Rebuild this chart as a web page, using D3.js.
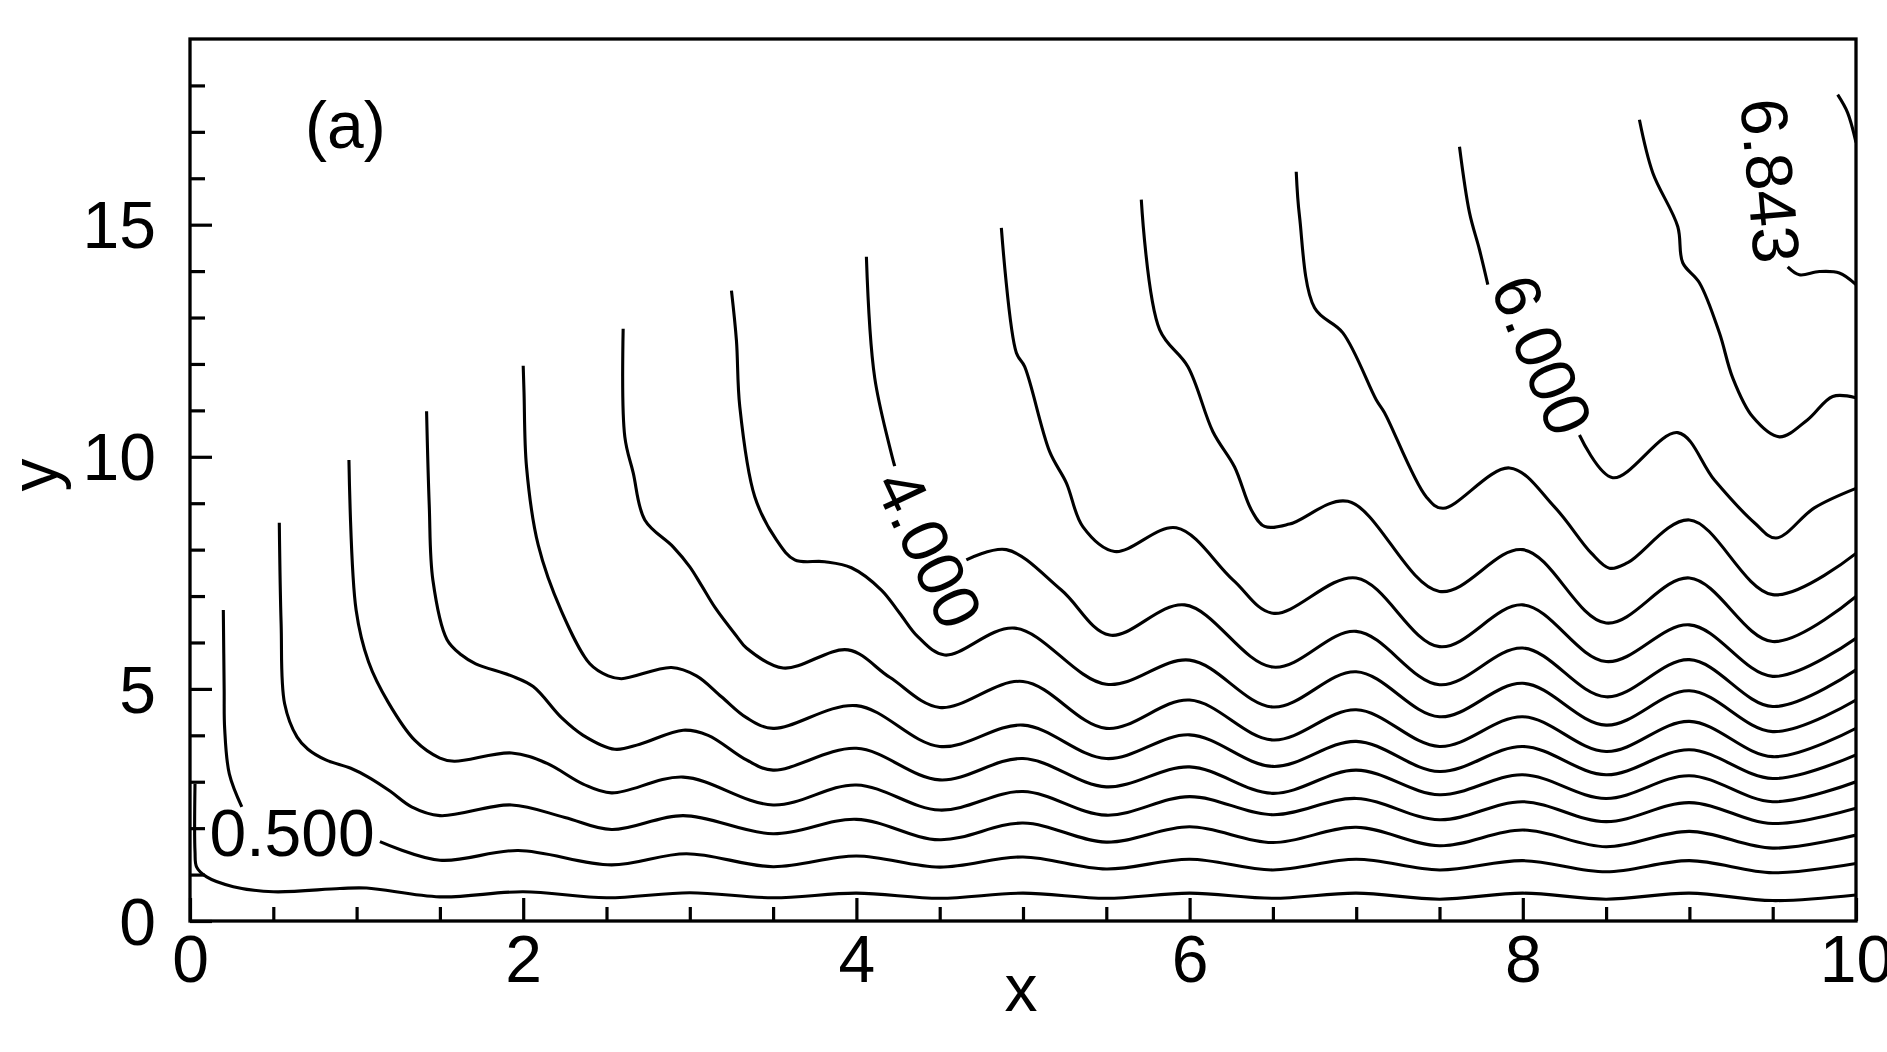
<!DOCTYPE html>
<html><head><meta charset="utf-8">
<script src="https://cdn.jsdelivr.net/npm/d3@7/dist/d3.min.js"></script>
<style>
body{margin:0;background:#fff}
svg{display:block}
text{font-family:"Liberation Sans",Arial,Helvetica,sans-serif;fill:#000}
</style>
</head><body>
<svg id="chart" width="1887" height="1052"></svg>
<script>
// ---------- data ----------
const xMajorTicks = [0, 2, 4, 6, 8, 10];
const xMinorTicks = [0.5,1,1.5,2.5,3,3.5,4.5,5,5.5,6.5,7,7.5,8.5,9,9.5];
const yMajorTicks = [0, 5, 10, 15];
const yMinorTicks = [1,2,3,4,6,7,8,9,11,12,13,14,16,17,18];
const xDomain = [0, 10];
const yDomain = [0, 19];

// contour lines, [x, y] pairs (label gaps split lines)
const c1 = [[0.03,2.95],[0.03,1.5],[0.04,1.16],[0.1,0.95],[0.26,0.74],[0.5,0.63],[0.9,0.7],[1.06,0.71],[1.5,0.52],[2,0.63],[2.5,0.5],[3,0.61],[3.5,0.5],[4,0.6],[4.5,0.49],[5,0.6],[5.5,0.49],[6,0.6],[6.5,0.49],[7,0.6],[7.5,0.47],[8,0.6],[8.5,0.47],[9,0.6],[9.5,0.44],[10,0.56]];
const c2a = [[0.2,6.7],[0.205,5.0],[0.208,4.15],[0.236,3.17],[0.311,2.46]];
const c2b = [[1.14,1.71],[1.5,1.31],[1.97,1.52],[2.53,1.21],[2.98,1.45],[3.5,1.17],[4,1.4],[4.5,1.16],[5,1.38],[5.5,1.12],[6,1.33],[6.5,1.1],[7,1.33],[7.5,1.1],[8,1.3],[8.5,1.06],[9,1.3],[9.5,1.04],[10,1.24]];
const c3 = [[0.536,8.58],[0.547,6.4],[0.568,4.68],[0.643,3.96],[0.708,3.7],[0.815,3.47],[0.965,3.29],[1.07,3.1],[1.2,2.8],[1.33,2.46],[1.5,2.27],[1.93,2.5],[2.25,2.23],[2.53,1.97],[2.96,2.27],[3.5,1.88],[4,2.19],[4.5,1.75],[5,2.11],[5.5,1.7],[6,2.03],[6.5,1.69],[7,2.02],[7.5,1.62],[8,1.96],[8.5,1.6],[9,1.93],[9.5,1.57],[10,1.85]];
const c4 = [[0.954,9.93],[0.997,6.7],[1.072,5.58],[1.19,4.71],[1.35,3.89],[1.5,3.51],[1.586,3.44],[1.93,3.62],[2.14,3.4],[2.36,2.95],[2.53,2.76],[2.96,3.1],[3.5,2.5],[4,2.93],[4.5,2.39],[5,2.79],[5.5,2.28],[6,2.68],[6.5,2.29],[7,2.64],[7.5,2.18],[8,2.57],[8.5,2.14],[9,2.55],[9.5,2.1],[10,2.43]];
const c5 = [[1.42,10.98],[1.436,8.96],[1.458,7.34],[1.543,6.06],[1.63,5.73],[1.715,5.54],[1.93,5.28],[2.06,5.05],[2.23,4.38],[2.36,4.0],[2.55,3.7],[2.7,3.81],[2.96,4.11],[3.11,4.0],[3.34,3.47],[3.5,3.25],[4,3.72],[4.5,3.04],[5,3.5],[5.5,2.89],[6,3.32],[6.5,2.75],[7,3.25],[7.5,2.72],[8,3.15],[8.5,2.64],[9,3.13],[9.5,2.57],[10,3.0]];
const c6 = [[2.0,11.96],[2.005,11.38],[2.02,9.78],[2.09,8.1],[2.23,6.67],[2.4,5.54],[2.51,5.28],[2.59,5.22],[2.89,5.46],[3.04,5.28],[3.19,4.83],[3.34,4.38],[3.5,4.15],[4,4.64],[4.5,3.76],[5,4.22],[5.5,3.5],[6,4.01],[6.5,3.33],[7,3.87],[7.5,3.22],[8,3.76],[8.5,3.15],[9,3.69],[9.5,3.07],[10,3.58]];
const c7 = [[2.6,12.76],[2.61,10.43],[2.66,9.66],[2.73,8.64],[2.9,8.06],[3.0,7.63],[3.07,7.23],[3.15,6.76],[3.28,6.14],[3.34,5.88],[3.56,5.45],[3.95,5.84],[4.2,5.25],[4.5,4.6],[5,5.16],[5.5,4.15],[6,4.76],[6.5,3.9],[7,4.55],[7.5,3.76],[8,4.4],[8.5,3.65],[9,4.3],[9.5,3.54],[10,4.15]];
const c8 = [[3.25,13.58],[3.28,12.5],[3.3,11.08],[3.39,9.14],[3.52,8.21],[3.63,7.78],[3.81,7.74],[3.97,7.61],[4.15,7.13],[4.26,6.63],[4.37,6.12],[4.53,5.73],[4.95,6.31],[5.5,5.1],[6,5.62],[6.5,4.61],[7,5.37],[7.5,4.4],[8,5.12],[8.5,4.22],[9,4.96],[9.5,4.08],[10,4.76]];
const c9a = [[4.06,14.31],[4.11,11.7],[4.23,9.8]];
const c9b = [[4.66,7.78],[4.9,8.0],[5.23,7.13],[5.52,6.16],[5.97,6.81],[6.5,5.47],[7,6.24],[7.5,5.09],[8,5.88],[8.5,4.83],[9,5.63],[9.5,4.62],[10,5.41]];
const c10 = [[4.87,14.93],[4.96,12.24],[5.01,11.94],[5.16,10.11],[5.26,9.44],[5.36,8.49],[5.55,7.96],[5.92,8.47],[6.26,7.35],[6.5,6.63],[7,7.39],[7.5,5.91],[8,6.81],[8.5,5.59],[9,6.38],[9.5,5.27],[10,6.09]];
const c11 = [[5.71,15.54],[5.82,12.74],[5.99,11.94],[6.14,10.54],[6.27,9.78],[6.37,8.86],[6.45,8.5],[6.6,8.55],[6.95,9.04],[7.5,7.1],[8,8.0],[8.5,6.42],[9,7.39],[9.5,6.02],[10,6.99]];
const c12 = [[6.64,16.14],[6.66,15.17],[6.75,13.21],[6.92,12.67],[7.12,11.23],[7.17,10.95],[7.42,9.14],[7.52,8.89],[7.92,9.76],[8.19,8.92],[8.41,7.93],[8.52,7.6],[8.63,7.72],[9.0,8.64],[9.5,7.03],[10,7.92]];
const c13a = [[7.62,16.68],[7.68,15.26],[7.74,14.46],[7.79,13.71]];
const c13b = [[8.34,10.47],[8.54,9.55],[8.93,10.52],[9.15,9.5],[9.39,8.58],[9.52,8.25],[9.75,8.9],[10,9.32]];
const c14 = [[8.7,17.26],[8.78,16.12],[8.93,14.96],[8.96,14.18],[9.06,13.75],[9.18,12.67],[9.26,11.7],[9.38,10.86],[9.54,10.43],[9.71,10.8],[9.86,11.3],[10,11.27]];
const c15 = [[9.89,17.8],[9.95,17.41],[10,16.77]];
const c16 = [[9.59,14.09],[9.66,13.92],[9.78,13.99],[9.9,13.96],[10,13.71]];
const contourLines = [c1,c2a,c2b,c3,c4,c5,c6,c7,c8,c9a,c9b,c10,c11,c12,c13a,c13b,c14,c15,c16];

const labelTexts  = ["0.500", "4.000", "6.000", "6.843"];
const labelX      = [0.613, 4.44, 8.12, 9.49];
const labelY      = [1.91, 8.02, 12.2, 15.95];
const labelAngles = [0, 65, 68, 85];

const panelTag = "(a)";
const xTitle = "x";
const yTitle = "y";

// ---------- drawing ----------
const svg = d3.select("#chart");
const x = d3.scaleLinear().domain(xDomain).range([190, 1856]);
const y = d3.scaleLinear().domain(yDomain).range([921, 39]);
const FS = 66;

svg.append("rect").attr("width",1887).attr("height",1052).attr("fill","#fff");

svg.append("defs").append("clipPath").attr("id","plotclip")
  .append("rect").attr("x",x(0)).attr("y",y(19)).attr("width",x(10)-x(0)).attr("height",y(0)-y(19));

const line = d3.line().x(d=>x(d[0])).y(d=>y(d[1])).curve(d3.curveCatmullRom.alpha(0.5));

svg.append("g").attr("clip-path","url(#plotclip)")
  .selectAll("path").data(contourLines).join("path")
  .attr("d", line).attr("fill","none").attr("stroke","#000")
  .attr("stroke-width",3.1).attr("stroke-linejoin","round").attr("stroke-linecap","butt");

// contour labels
svg.append("g").selectAll("text").data(labelTexts).join("text")
  .attr("transform",(d,i)=>`translate(${x(labelX[i])},${y(labelY[i])}) rotate(${labelAngles[i]})`)
  .attr("text-anchor","middle").attr("dy","0.36em")
  .attr("font-size",FS).text(d=>d);

// axes (ticks inward)
function styleAxis(g){
  g.select(".domain").remove();
  g.selectAll(".tick line").attr("stroke","#000").attr("stroke-width",3.2);
  g.selectAll(".tick text").attr("font-size",FS).attr("fill","#000")
   .style("font-family",'"Liberation Sans",Arial,sans-serif');
}
const gxMin = svg.append("g").attr("transform",`translate(0,${y(0)})`)
  .call(d3.axisBottom(x).tickValues(xMinorTicks).tickSize(-14).tickSizeOuter(0).tickFormat(""));
styleAxis(gxMin);
const gxMaj = svg.append("g").attr("transform",`translate(0,${y(0)})`)
  .call(d3.axisBottom(x).tickValues(xMajorTicks).tickSize(-23).tickSizeOuter(0).tickPadding(14).tickFormat(d3.format("d")));
styleAxis(gxMaj);
const gyMin = svg.append("g").attr("transform",`translate(${x(0)},0)`)
  .call(d3.axisLeft(y).tickValues(yMinorTicks).tickSize(-15).tickSizeOuter(0).tickFormat(""));
styleAxis(gyMin);
const gyMaj = svg.append("g").attr("transform",`translate(${x(0)},0)`)
  .call(d3.axisLeft(y).tickValues(yMajorTicks).tickSize(-22).tickSizeOuter(0).tickPadding(34).tickFormat(d3.format("d")));
styleAxis(gyMaj);
gyMaj.selectAll(".tick text").attr("dy","0.35em");

// frame
svg.append("rect").attr("x",x(0)).attr("y",y(19)).attr("width",x(10)-x(0)).attr("height",y(0)-y(19))
  .attr("fill","none").attr("stroke","#000").attr("stroke-width",3.3);

// titles
svg.append("text").attr("x",1021).attr("y",1011).attr("text-anchor","middle").attr("font-size",FS).text(xTitle);
svg.append("text").attr("transform","translate(57,475) rotate(-90)").attr("text-anchor","middle").attr("font-size",FS).text(yTitle);
svg.append("text").attr("x",305).attr("y",148).attr("font-size",FS).text(panelTag);
</script>
</body></html>
